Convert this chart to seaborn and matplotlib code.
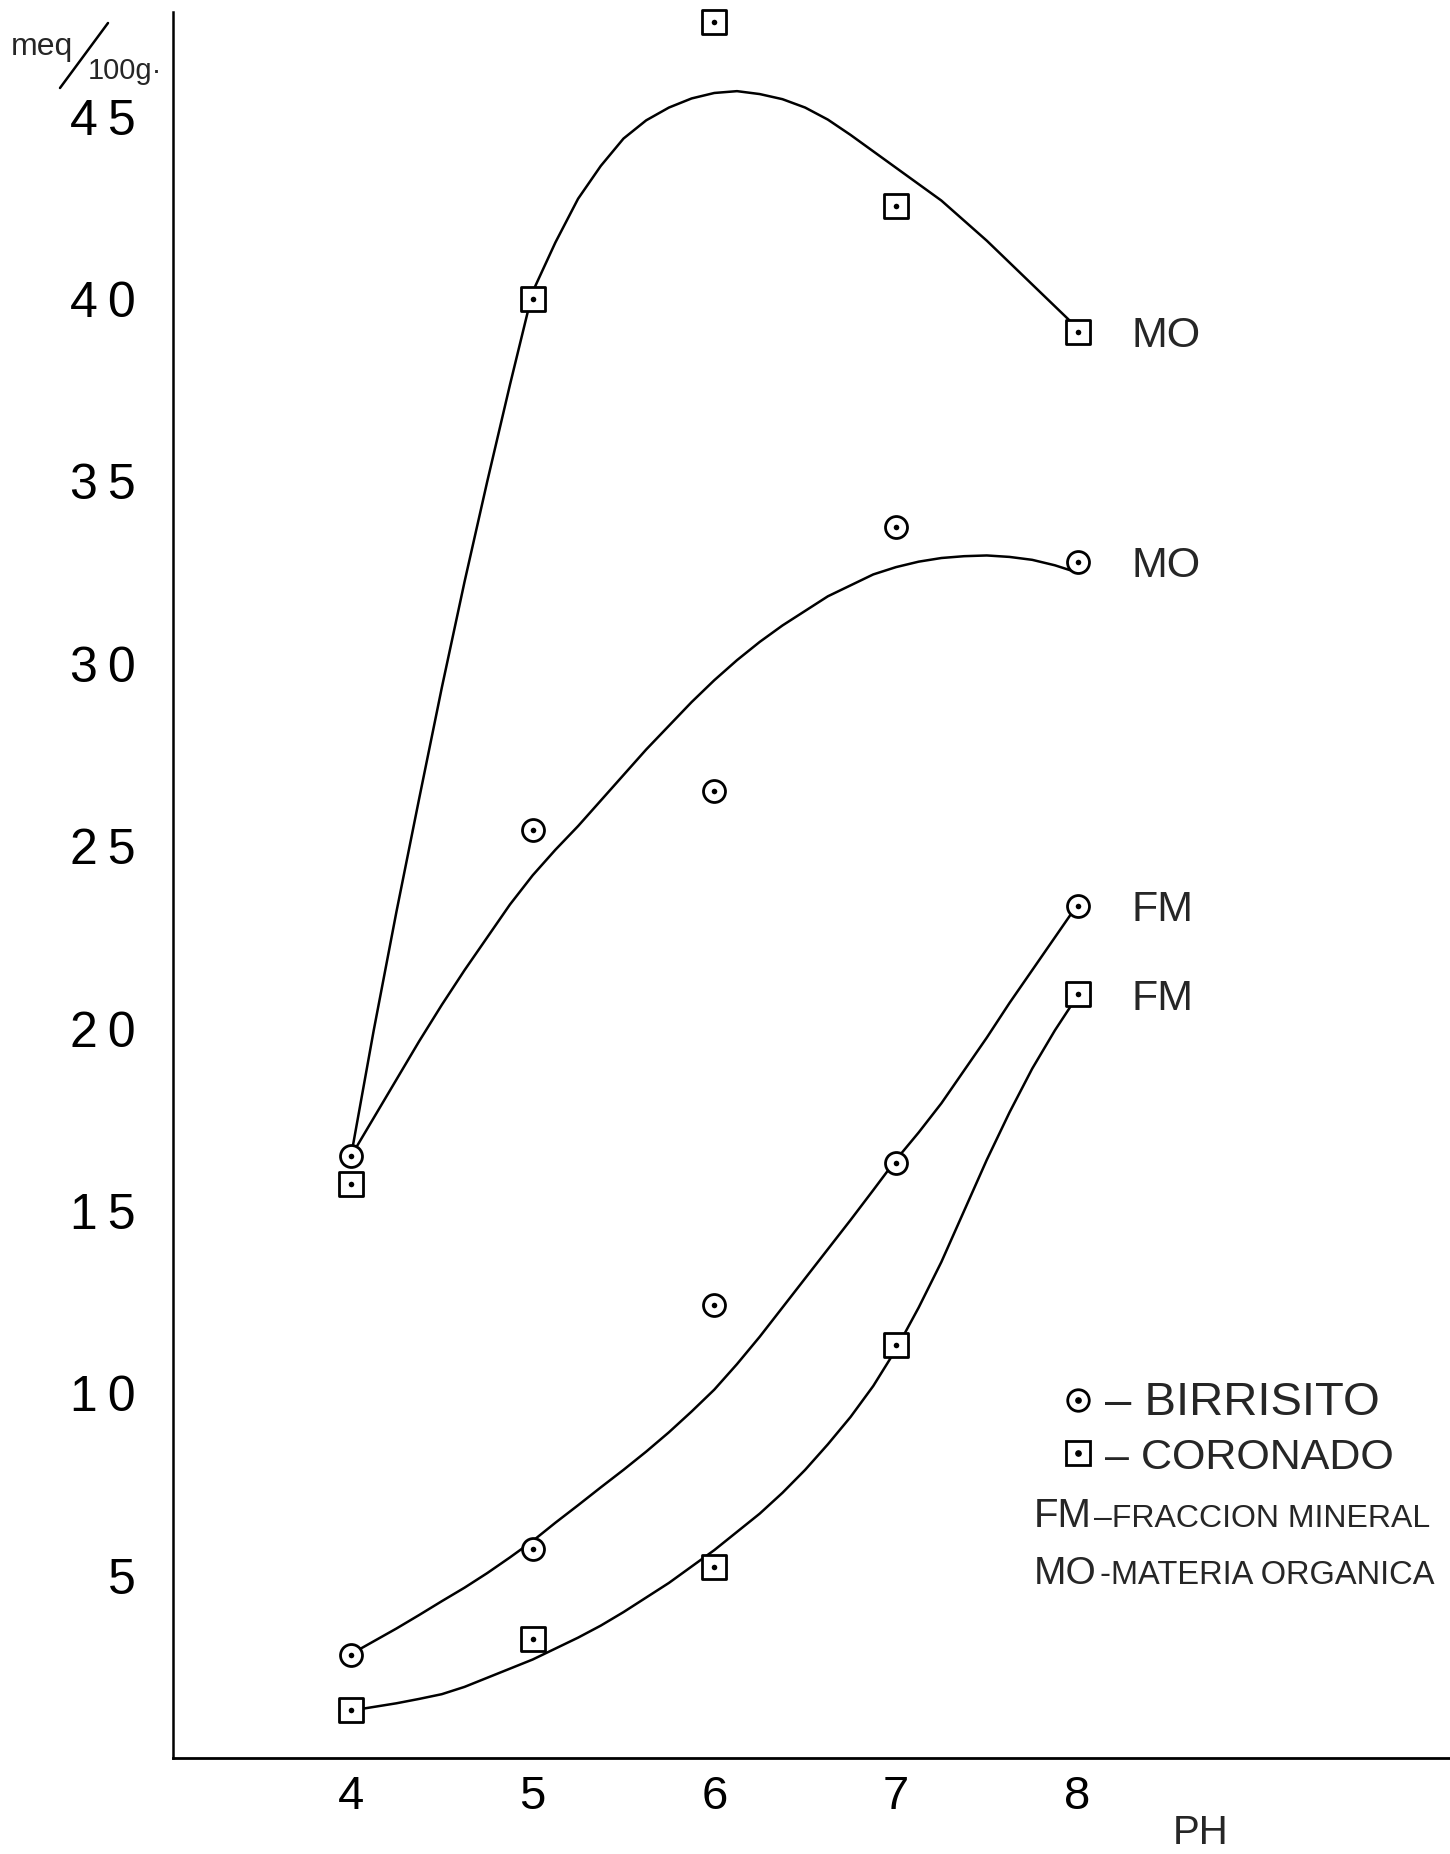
import numpy as np
import pandas as pd
import matplotlib
matplotlib.use("Agg")
import matplotlib.pyplot as plt
import seaborn as sns
from matplotlib import font_manager
from matplotlib.lines import Line2D

# ---------------- data ----------------
ph = [4, 5, 6, 7, 8]
birrisito_mo = [16.5, 25.45, 26.5, 33.75, 32.8]
coronado_mo = [15.75, 40.0, 47.6, 42.55, 39.1]
birrisito_fm = [2.82, 5.72, 12.42, 16.32, 23.36]
coronado_fm = [1.32, 3.25, 5.23, 11.32, 20.94]

# hand-drawn fitted curves, every 0.125 pH
curve_ph = [4.0, 4.125, 4.25, 4.375, 4.5, 4.625, 4.75, 4.875, 5.0,
            5.125, 5.25, 5.375, 5.5, 5.625, 5.75, 5.875, 6.0,
            6.125, 6.25, 6.375, 6.5, 6.625, 6.75, 6.875, 7.0,
            7.125, 7.25, 7.375, 7.5, 7.625, 7.75, 7.875, 8.0]
curve_coronado_mo = [16.5, 19.95, 23.2, 26.3, 29.35, 32.25, 35.0, 37.65, 40.2,
                     41.55, 42.75, 43.65, 44.4, 44.9, 45.25, 45.5, 45.65,
                     45.7, 45.62, 45.48, 45.25, 44.92, 44.5, 44.05, 43.6,
                     43.15, 42.7, 42.15, 41.6, 41.0, 40.4, 39.8, 39.2]
curve_birrisito_mo = [16.5, 17.55, 18.6, 19.65, 20.65, 21.6, 22.5, 23.4, 24.2,
                      24.9, 25.55, 26.25, 26.95, 27.65, 28.3, 28.95, 29.55,
                      30.1, 30.6, 31.05, 31.45, 31.85, 32.15, 32.45, 32.65,
                      32.8, 32.9, 32.95, 32.97, 32.93, 32.85, 32.7, 32.5]
curve_birrisito_fm = [2.85, 3.2, 3.55, 3.92, 4.3, 4.67, 5.07, 5.5, 5.95,
                      6.45, 6.93, 7.42, 7.9, 8.4, 8.93, 9.5, 10.1,
                      10.8, 11.55, 12.35, 13.15, 13.95, 14.75, 15.57, 16.4,
                      17.15, 17.95, 18.85, 19.75, 20.7, 21.6, 22.5, 23.4]
curve_coronado_fm = [1.3, 1.4, 1.5, 1.62, 1.75, 1.95, 2.2, 2.45, 2.7,
                     3.0, 3.3, 3.63, 4.0, 4.4, 4.8, 5.25, 5.7,
                     6.2, 6.7, 7.27, 7.9, 8.6, 9.35, 10.2, 11.2,
                     12.35, 13.6, 15.0, 16.4, 17.7, 18.9, 19.95, 20.9]

x_ticks = [4, 5, 6, 7, 8]
y_ticks = [5, 10, 15, 20, 25, 30, 35, 40, 45]
series_labels = ["MO", "MO", "FM", "FM"]
legend_sites = ["BIRRISITO", "CORONADO"]
legend_codes = ["FM", "MO"]
legend_meanings = ["–FRACCION MINERAL", "-MATERIA ORGANICA"]

# ---------------- fonts ----------------
sns.set_style("white")
names = {f.name for f in font_manager.fontManager.ttflist}
BASE = "Liberation Sans" if "Liberation Sans" in names else "DejaVu Sans"
FAM = [BASE, "DejaVu Sans"]
plt.rcParams["font.family"] = FAM

W, H = 1450, 1854
fig = plt.figure(figsize=(W / 100, H / 100), dpi=100)
fig.patch.set_facecolor("white")
ax_left, ax_bottom_px, ax_top_px = 173, 1758, 12
ax = fig.add_axes([ax_left / W, (H - ax_bottom_px) / H,
                   (W - ax_left) / W, (ax_bottom_px - ax_top_px) / H])
ax.set_facecolor("white")

points = pd.DataFrame({
    "pH": ph * 4,
    "valor": birrisito_mo + birrisito_fm + coronado_mo + coronado_fm,
    "suelo": ["Birrisito"] * 10 + ["Coronado"] * 10,
    "fraccion": (["MO"] * 5 + ["FM"] * 5) * 2,
})
n = len(curve_ph)
curves = pd.DataFrame({
    "pH": curve_ph * 4,
    "valor": curve_coronado_mo + curve_birrisito_mo + curve_birrisito_fm + curve_coronado_fm,
    "serie": (["Coronado MO"] * n + ["Birrisito MO"] * n
              + ["Birrisito FM"] * n + ["Coronado FM"] * n),
})

sns.lineplot(data=curves, x="pH", y="valor", units="serie", estimator=None,
             sort=False, color="black", linewidth=1.8, ax=ax, zorder=2,
             legend=False)

bir = points[points["suelo"] == "Birrisito"]
cor = points[points["suelo"] == "Coronado"]
sns.scatterplot(data=bir, x="pH", y="valor", marker="o", s=250, color="white",
                edgecolor="black", linewidth=2.0, ax=ax, zorder=3, clip_on=False)
sns.scatterplot(data=cor, x="pH", y="valor", marker="s", s=290, color="white",
                edgecolor="black", linewidth=2.0, ax=ax, zorder=3, clip_on=False)
sns.scatterplot(data=points, x="pH", y="valor", marker="o", s=16, color="black",
                linewidth=0, ax=ax, zorder=4, clip_on=False)

# series labels at the right end of each curve
ends = [coronado_mo[-1], birrisito_mo[-1], birrisito_fm[-1], coronado_fm[-1]]
for lab, yv in zip(series_labels, ends):
    ax.annotate(lab, xy=(ph[-1], yv), xytext=(39, 0), textcoords="offset points",
                ha="left", va="center_baseline", fontsize=31)

# axes styling
ax.set_xlim(3.02, 10.05)
ax.set_ylim(0, 47.87)
ax.set_xticks(x_ticks)
ax.set_yticks(y_ticks)
ax.set_xticklabels([str(v) for v in x_ticks])
ax.set_yticklabels(["\u2009".join(str(v)) for v in y_ticks])
ax.set_xlabel("")
ax.set_ylabel("")
for s in ["top", "right"]:
    ax.spines[s].set_visible(False)
ax.spines["left"].set_linewidth(1.8)
ax.spines["bottom"].set_linewidth(2.0)
ax.spines["left"].set_color("black")
ax.spines["bottom"].set_color("black")
ax.tick_params(axis="both", direction="in", length=12, width=1.5, colors="black")
ax.tick_params(axis="x", pad=12, labelsize=34)
ax.tick_params(axis="y", pad=27, labelsize=36)

# PH axis label
fig.text(1201 / W, 1 - 1844 / H, "PH", ha="center", va="baseline", fontsize=29)

# meq/100g unit label
fig.text(11 / W, 1 - 55 / H, "meq", ha="left", va="baseline", fontsize=23)
fig.text(88 / W, 1 - 79 / H, "100g·", ha="left", va="baseline", fontsize=21)
fig.add_artist(Line2D([60 / W, 108 / W], [1 - 88 / H, 1 - 23 / H],
                      color="black", linewidth=1.8, transform=fig.transFigure))

# legend: marker keys
h_circ = (Line2D([], [], ls="", marker="o", ms=15.5, mfc="white", mec="black", mew=2.0),
          Line2D([], [], ls="", marker="o", ms=3.8, mfc="black", mec="black"))
h_sq = (Line2D([], [], ls="", marker="s", ms=17, mfc="white", mec="black", mew=2.0),
        Line2D([], [], ls="", marker="o", ms=3.8, mfc="black", mec="black"))
leg = ax.legend([h_circ, h_sq], ["– " + s for s in legend_sites],
                loc="upper left", bbox_to_anchor=(1034 / W, 1 - 1359 / H),
                bbox_transform=fig.transFigure, frameon=False, borderpad=0,
                handlelength=1.0, handletextpad=0.1, labelspacing=0.28,
                prop={"size": 32})
leg.get_texts()[0].set_fontsize(34)
leg.get_texts()[1].set_fontsize(31)

# legend: abbreviations
code_sizes = [29, 28]
desc_sizes = [23, 23.5]
base_y = [1527, 1584]
desc_x = [1094, 1100]
for code, meaning, by, cs, ds, dx in zip(legend_codes, legend_meanings, base_y,
                                         code_sizes, desc_sizes, desc_x):
    fig.text(1034 / W, 1 - by / H, code, ha="left", va="baseline", fontsize=cs)
    fig.text(dx / W, 1 - by / H, meaning, ha="left", va="baseline", fontsize=ds)

fig.savefig("out.png", dpi=100, facecolor="white")
